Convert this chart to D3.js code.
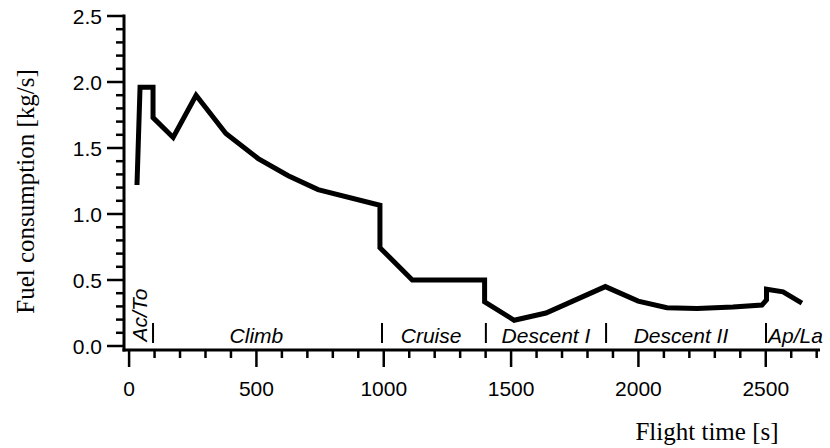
<!DOCTYPE html>
<html>
<head>
<meta charset="utf-8">
<script src="https://cdn.jsdelivr.net/npm/d3@7"></script>
<style>
  body { margin: 0; background: #fff; }
</style>
</head>
<body>
<div id="chart"></div>
<script>
// flight time [s] and fuel flow [kg/s]
const flightTime = [31, 43, 94, 94, 173, 263, 380, 507, 625, 742, 985, 985, 1112, 1396, 1396,
  1512, 1637, 1870, 1999, 2112, 2230, 2371, 2485, 2503, 2503, 2568, 2642];
const fuelFlow = [1.22, 1.96, 1.96, 1.73, 1.58, 1.90, 1.61, 1.42, 1.29, 1.185, 1.066, 0.745, 0.50, 0.50, 0.335,
  0.195, 0.25, 0.45, 0.34, 0.29, 0.285, 0.295, 0.31, 0.35, 0.43, 0.41, 0.325];

// flight phases: boundaries and label positions
const phaseBounds = [94, 993, 1401, 1873, 2501];
const phaseNames = ["Climb", "Cruise", "Descent I", "Descent II"];
const phaseCenters = [500, 1186, 1637, 2167];

const xMajor = [0, 500, 1000, 1500, 2000, 2500];
const yMajor = [0, 0.5, 1.0, 1.5, 2.0, 2.5];

const width = 830, height = 448;

const svg = d3.select("#chart").append("svg")
  .attr("width", width)
  .attr("height", height);

const x = d3.scaleLinear().domain([-20, 2713]).range([124, 820]);
const y = d3.scaleLinear().domain([0, 2.5]).range([346, 16]);
const yAxisPos = 124, xAxisPos = 350;

// axes lines
svg.append("line")
  .attr("x1", yAxisPos).attr("x2", yAxisPos)
  .attr("y1", y(2.5) - 1.5).attr("y2", xAxisPos + 1.5)
  .attr("stroke", "#000").attr("stroke-width", 3);
svg.append("line")
  .attr("x1", yAxisPos - 1.5).attr("x2", x(2713))
  .attr("y1", xAxisPos).attr("y2", xAxisPos)
  .attr("stroke", "#000").attr("stroke-width", 3);

// x ticks
svg.append("g").selectAll("line")
  .data(d3.range(0, 2701, 100))
  .join("line")
  .attr("x1", d => x(d)).attr("x2", d => x(d))
  .attr("y1", xAxisPos)
  .attr("y2", d => xAxisPos + (d % 500 === 0 ? 17 : 8))
  .attr("stroke", "#000").attr("stroke-width", 2.5);

svg.append("g").selectAll("text")
  .data(xMajor)
  .join("text")
  .attr("x", d => x(d))
  .attr("y", 396)
  .attr("text-anchor", "middle")
  .attr("font-family", "Liberation Sans, Arial, sans-serif")
  .attr("font-size", 21)
  .text(d => d);

// y ticks
svg.append("g").selectAll("line")
  .data(d3.range(0, 26).map(i => i / 10))
  .join("line")
  .attr("x1", yAxisPos)
  .attr("x2", (d, i) => yAxisPos - (i % 5 === 0 ? 17 : 8))
  .attr("y1", d => y(d)).attr("y2", d => y(d))
  .attr("stroke", "#000").attr("stroke-width", 2.5);

svg.append("g").selectAll("text")
  .data(yMajor)
  .join("text")
  .attr("x", 102)
  .attr("y", d => y(d))
  .attr("dy", "0.36em")
  .attr("text-anchor", "end")
  .attr("font-family", "Liberation Sans, Arial, sans-serif")
  .attr("font-size", 21)
  .text(d => d3.format(".1f")(d));

// titles
svg.append("text")
  .attr("transform", "translate(34,191.5) rotate(-90)")
  .attr("text-anchor", "middle")
  .attr("font-family", "Liberation Serif, Times New Roman, serif")
  .attr("font-size", 25)
  .text("Fuel consumption [kg/s]");

svg.append("text")
  .attr("x", 707).attr("y", 440)
  .attr("text-anchor", "middle")
  .attr("font-family", "Liberation Serif, Times New Roman, serif")
  .attr("font-size", 25)
  .text("Flight time [s]");

// phase separators and labels
svg.append("g").selectAll("line")
  .data(phaseBounds)
  .join("line")
  .attr("x1", d => x(d)).attr("x2", d => x(d))
  .attr("y1", 323).attr("y2", 343)
  .attr("stroke", "#000").attr("stroke-width", 2);

const phaseFont = "Liberation Sans, Arial, sans-serif";
svg.append("g").selectAll("text")
  .data(phaseNames)
  .join("text")
  .attr("x", (d, i) => x(phaseCenters[i]))
  .attr("y", 343)
  .attr("text-anchor", "middle")
  .attr("font-family", phaseFont)
  .attr("font-style", "italic")
  .attr("font-size", 21)
  .text(d => d);

svg.append("text")
  .attr("x", x(2501) + 2).attr("y", 343)
  .attr("font-family", phaseFont)
  .attr("font-style", "italic")
  .attr("font-size", 21)
  .text("Ap/La");

svg.append("text")
  .attr("transform", `translate(${x(70)},315) rotate(-90)`)
  .attr("text-anchor", "middle")
  .attr("font-family", phaseFont)
  .attr("font-style", "italic")
  .attr("font-size", 21)
  .text("Ac/To");

// fuel consumption line
const line = d3.line()
  .x(i => x(flightTime[i]))
  .y(i => y(fuelFlow[i]));

svg.append("path")
  .attr("d", line(d3.range(flightTime.length)))
  .attr("fill", "none")
  .attr("stroke", "#000")
  .attr("stroke-width", 5)
  .attr("stroke-linejoin", "miter");
</script>
</body>
</html>
